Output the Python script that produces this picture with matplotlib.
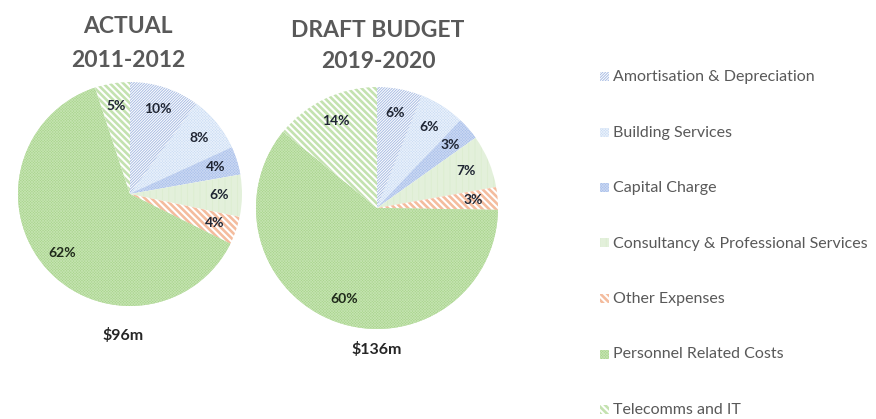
import matplotlib.pyplot as plt
from matplotlib.patches import Rectangle

plt.rcParams['font.family'] = ['Lato', 'DejaVu Sans']

categories = ['Amortisation & Depreciation', 'Building Services', 'Capital Charge',
              'Consultancy & Professional Services', 'Other Expenses',
              'Personnel Related Costs', 'Telecomms and IT']
actual_2011 = [10, 8, 4, 6, 4, 62, 5]
budget_2019 = [6, 6, 3, 7, 3, 60, 14]
titles = [('ACTUAL', '2011-2012'), ('DRAFT BUDGET', '2019-2020')]
totals = ['$96m', '$136m']

# face colour, hatch pattern, hatch colour, hatch line width
styles = [
    ('#ffffff', '/' * 12, '#a9bde3', 0.7),
    ('#cadcf3', 'x' * 12, '#e8f0fb', 0.5),
    ('#a8bfea', 'x' * 12, '#c9d7f2', 0.5),
    ('#ffffff', '|' * 14, '#dcedd1', 0.7),
    ('#ffffff', '\\' * 5, '#f4bc9e', 1.9),
    ('#a8d48c', 'x' * 12, '#c4e3b0', 0.5),
    ('#ffffff', '\\' * 5, '#c4e2b0', 1.9),
]

W, H = 876, 419
fig = plt.figure(figsize=(W / 100, H / 100), dpi=100)


def px_axes(cx, cy, r):
    return fig.add_axes([(cx - r) / W, (H - cy - r) / H, 2 * r / W, 2 * r / H])


def set_hatch_lw(p, lw):
    if hasattr(p, 'set_hatch_linewidth'):
        p.set_hatch_linewidth(lw)
    else:
        p._hatch_linewidth = lw


def draw_pie(ax, values):
    wedges, _, autotexts = ax.pie(values, startangle=90, counterclock=False,
                                  autopct='%1.0f%%', pctdistance=0.8, radius=1,
                                  wedgeprops=dict(linewidth=0))
    for w, v, t, (fc, h, hc, lw) in zip(wedges, values, autotexts, styles):
        w.set_facecolor(fc)
        w.set_edgecolor(hc)
        w.set_hatch(h)
        w.set_linewidth(0)
        set_hatch_lw(w, lw)
        t.set_text(f'{v}%')
        t.set_fontsize(10)
        t.set_fontweight('bold')
        t.set_color('#1f2a1a' if v > 50 else '#1f2533')
    ax.set_xlim(-1, 1)
    ax.set_ylim(-1, 1)
    ax.set_aspect('equal')
    ax.axis('off')


ax1 = px_axes(130, 194, 112)
draw_pie(ax1, actual_2011)
ax2 = px_axes(377, 208, 121)
draw_pie(ax2, budget_2019)

# two-line titles, placed by baseline
title_pos = [(128, 33, 67), (378, 37, 68)]
for (line1, line2), (x, y1, y2) in zip(titles, title_pos):
    for txt, y in ((line1, y1), (line2, y2)):
        fig.text(x / W, 1 - y / H, txt, ha='center', va='baseline', fontsize=16.5,
                 fontweight='bold', color='#595959')

fig.text(123 / W, 1 - 335 / H, totals[0], ha='center', va='center', fontsize=11.5,
         fontweight='bold', color='#262626')
fig.text(377 / W, 1 - 349 / H, totals[1], ha='center', va='center', fontsize=11.5,
         fontweight='bold', color='#262626')

# legend entries on the right
for i, (name, (fc, h, hc, lw)) in enumerate(zip(categories, styles)):
    y = 77 + i * 55.5
    sw = Rectangle((600 / W, 1 - (y + 4) / H), 9 / W, 9 / H, transform=fig.transFigure,
                   facecolor=fc, edgecolor=hc, hatch=h, linewidth=0)
    set_hatch_lw(sw, lw)
    fig.patches.append(sw)
    fig.text(613 / W, 1 - y / H, name, ha='left', va='center', fontsize=11.5,
             color='#595959')

fig.savefig('out.png', dpi=100)
